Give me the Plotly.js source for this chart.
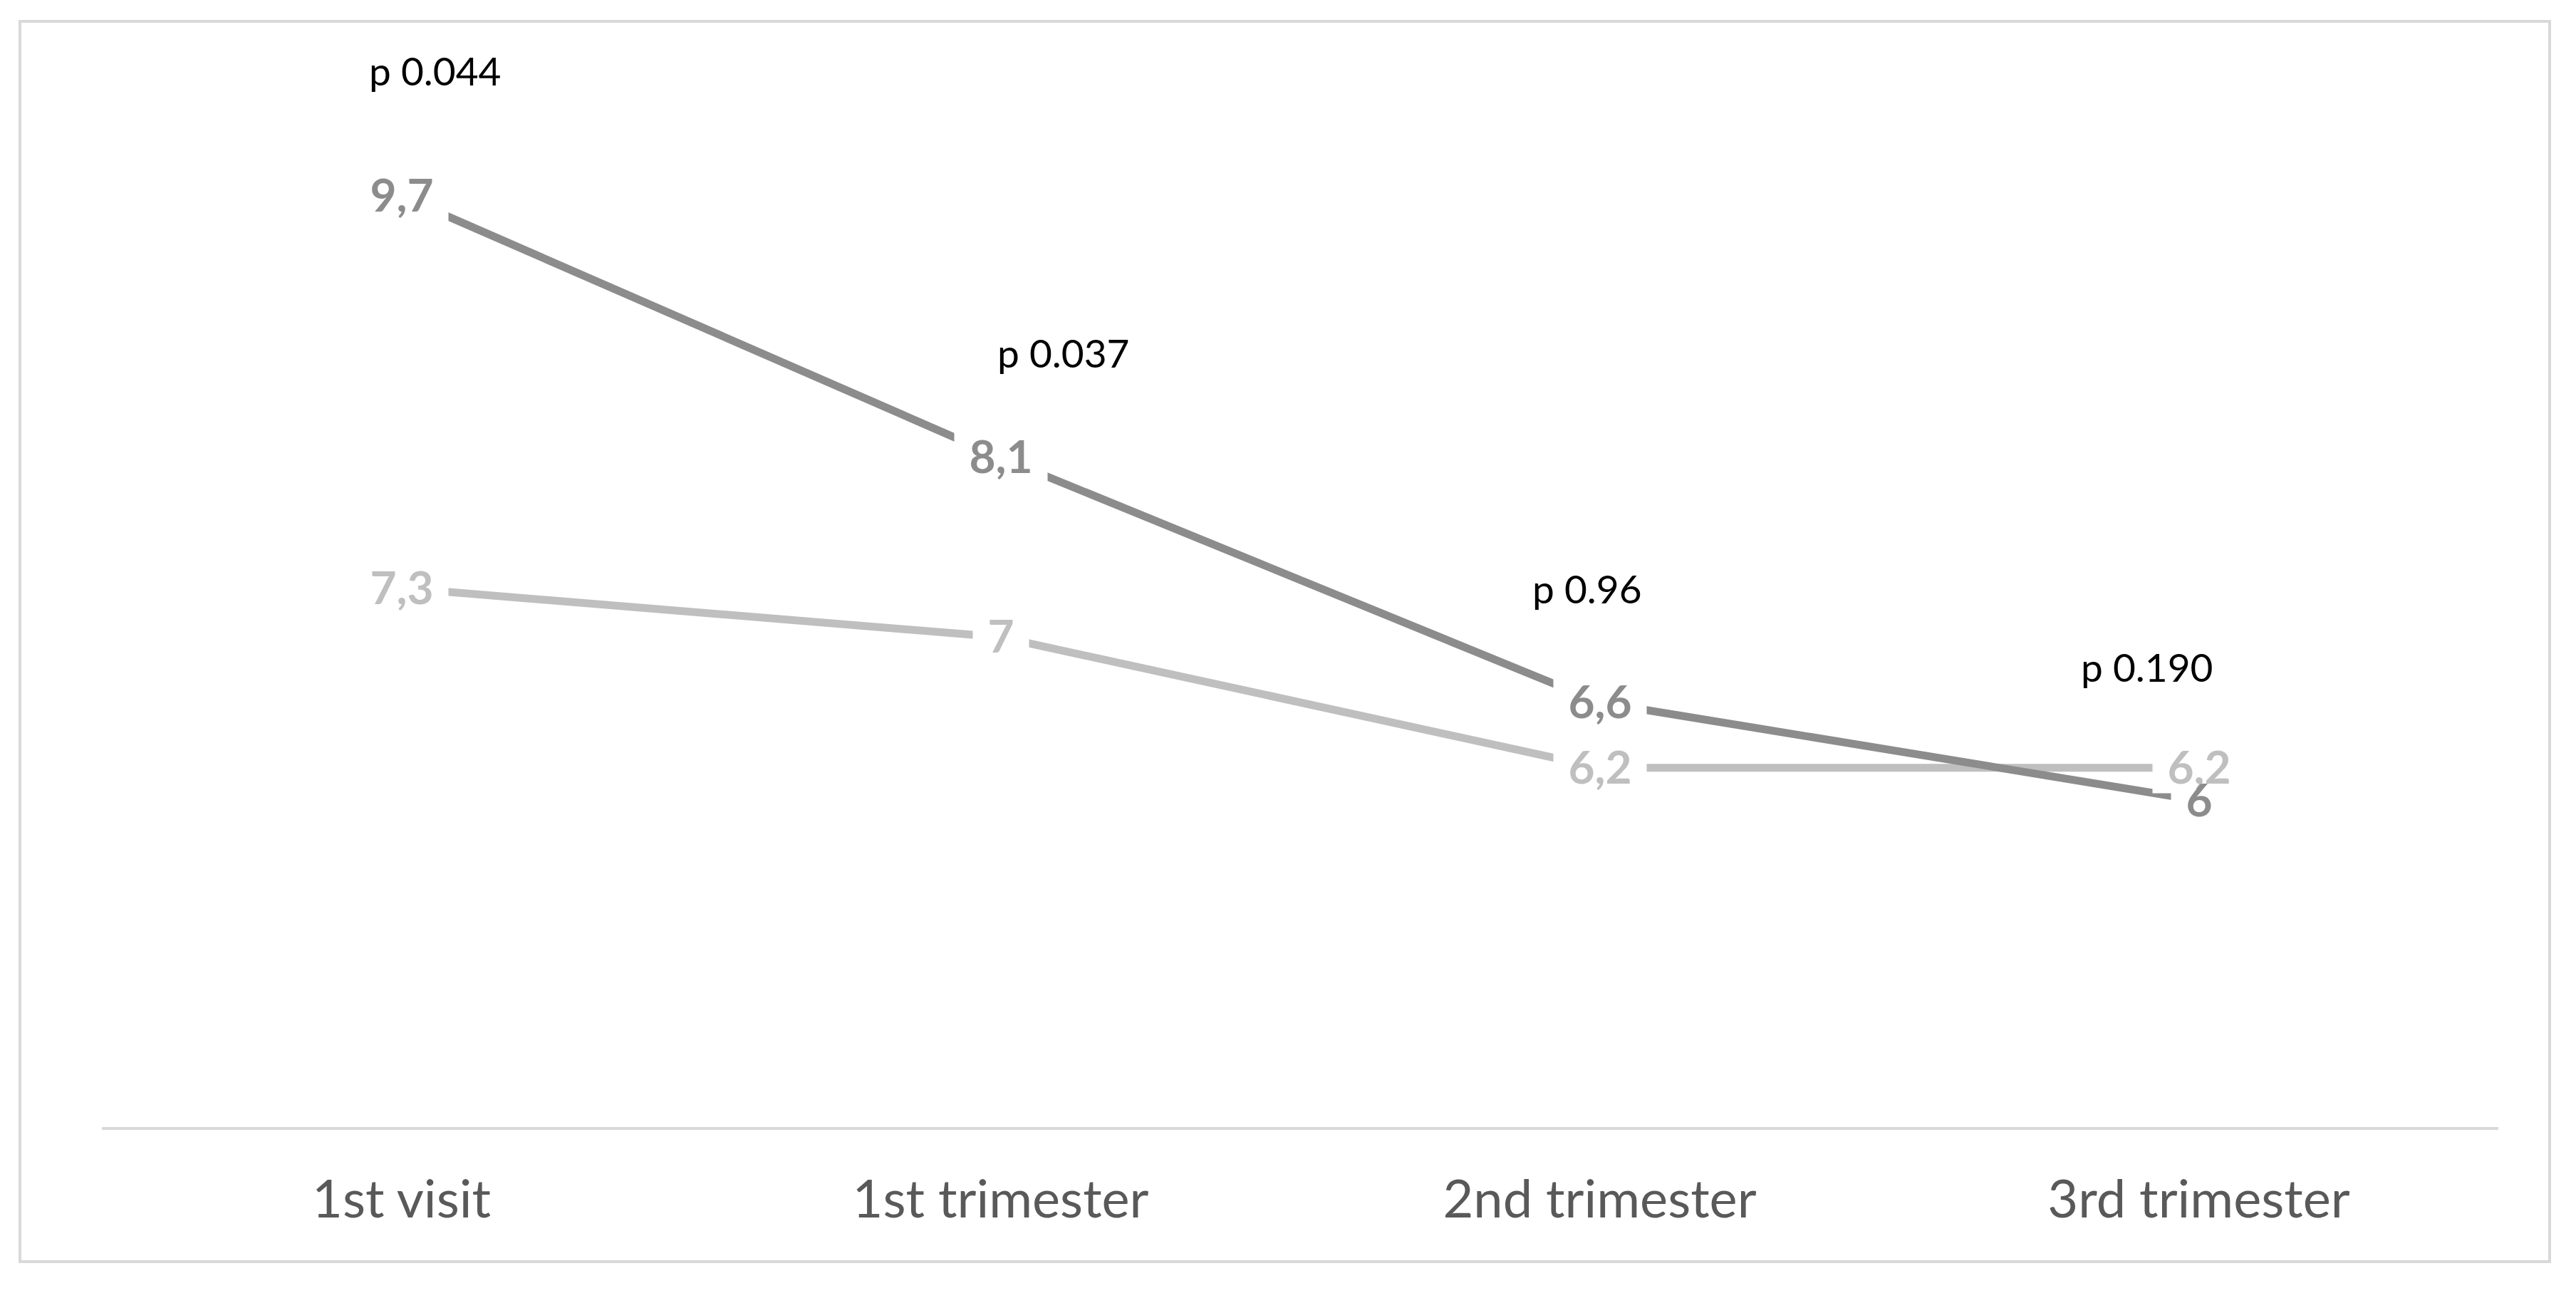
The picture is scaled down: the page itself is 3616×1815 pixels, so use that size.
<!DOCTYPE html>
<html>
<head>
<meta charset="utf-8">
<script src="https://cdn.plot.ly/plotly-3.0.1.min.js"></script>
<style>
  html, body { margin: 0; padding: 0; background: #ffffff; }
  #chart { width: 3616px; height: 1815px; }
</style>
</head>
<body>
<div id="chart"></div>
<script>
// ---- data ----
const categories = ['1st visit', '1st trimester', '2nd trimester', '3rd trimester'];
const seriesDark = [9.7, 8.1, 6.6, 6.0];
const seriesLight = [7.3, 7.0, 6.2, 6.2];
const pValues = ['p 0.044', 'p 0.037', 'p 0.96', 'p 0.190'];

// ---- styles / positions ----
const darkColor = '#8c8c8c';
const lightColor = '#bfbfbf';
const FONT = 'Lato, "Open Sans", "Liberation Sans", sans-serif';
const LABEL_SIZE = 64;
const LABEL_HPAD = 20;
// p-value text box positions (category index offset, y value)
const pLabelX = [0.056, 1.105, 1.979, 2.914];
const pLabelY = [10.47, 8.74, 7.30, 6.82];

function fmt(v) { return String(v).replace('.', ','); }

const measureCtx = document.createElement('canvas').getContext('2d');
measureCtx.font = 'bold ' + LABEL_SIZE + 'px Lato';
function textWidth(s) { return measureCtx.measureText(s).width; }

const traces = [
  { x: categories, y: seriesLight, type: 'scatter', mode: 'lines',
    line: { color: lightColor, width: 11 }, hoverinfo: 'skip', showlegend: false },
  { x: categories, y: seriesDark, type: 'scatter', mode: 'lines',
    line: { color: darkColor, width: 11 }, hoverinfo: 'skip', showlegend: false }
];

// each value label = a white backing box (hides the line) + the text on top
function valueLabel(v, i, color, asBacking) {
  const s = fmt(v);
  return {
    x: categories[i], y: v, xref: 'x', yref: 'y',
    text: asBacking ? '&nbsp;' : '<b>' + s + '</b>',
    showarrow: false,
    bgcolor: asBacking ? '#ffffff' : 'rgba(0,0,0,0)', borderpad: 0,
    width: Math.ceil(textWidth(s) + 2 * LABEL_HPAD), align: 'center',
    height: 76, valign: 'middle', yshift: 3,
    font: { family: FONT, size: LABEL_SIZE, color: asBacking ? 'rgba(0,0,0,0)' : color }
  };
}

const annotations = [];
seriesLight.forEach((v, i) => annotations.push(valueLabel(v, i, lightColor, true)));
seriesDark.forEach((v, i) => annotations.push(valueLabel(v, i, darkColor, true)));
seriesLight.forEach((v, i) => annotations.push(valueLabel(v, i, lightColor, false)));
seriesDark.forEach((v, i) => annotations.push(valueLabel(v, i, darkColor, false)));
pValues.forEach((t, i) => annotations.push({
  x: pLabelX[i], y: pLabelY[i], xref: 'x', yref: 'y', text: t,
  showarrow: false, font: { family: FONT, size: 55, color: '#000000' }
}));

const layout = {
  width: 3616, height: 1815,
  margin: { l: 143, r: 109, t: 92, b: 233 },
  paper_bgcolor: '#ffffff', plot_bgcolor: '#ffffff',
  showlegend: false,
  xaxis: {
    type: 'category', range: [-0.5, 3.5], fixedrange: true,
    showline: true, linecolor: '#d9d9d9', linewidth: 4,
    showgrid: false, zeroline: false, ticks: '',
    ticklabelstandoff: 34,
    tickfont: { family: FONT, size: 74, color: '#595959' }
  },
  yaxis: { range: [4, 10.5], visible: false, fixedrange: true },
  annotations: annotations,
  shapes: [{
    type: 'rect', xref: 'paper', yref: 'paper',
    x0: -0.0342, x1: 1.0214, y0: -0.1268, y1: 1.0416,
    line: { color: '#d9d9d9', width: 4 }, fillcolor: 'rgba(0,0,0,0)', layer: 'below'
  }]
};

Plotly.newPlot('chart', traces, layout, { staticPlot: true, displayModeBar: false });
</script>
</body>
</html>
